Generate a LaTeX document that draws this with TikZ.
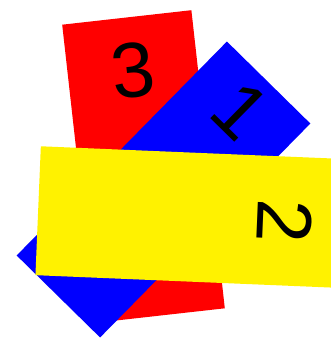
\documentclass[tikz,border=0pt]{standalone}
\usepackage{fontspec}
\setmainfont{Liberation Sans}
\usetikzlibrary{calc}
\newcommand{\cardfont}{\fontsize{78}{78}\selectfont}

\begin{document}
\begin{tikzpicture}[x=1pt,y=1pt]
\tikzset{card/.style={inner sep=0pt, minimum width=#1, minimum height=300pt},
  digit/.style={font=\cardfont, inner sep=0pt}}
\useasboundingbox (0,0) rectangle (331,338);
\node[card=130pt, fill=red, rotate=6.4] (red) at (143.5,171.5) {};
\node[digit, rotate=6.4] (three) at ($(red.center)!0.646!(red.north)$) {3};
\node[card=117pt, fill=blue, rotate=-44.5] (blue) at (163.5,148.5) {};
\node[digit, rotate=-44.5] (one) at ($(blue.center)!0.733!(blue.north)$) {1};
\node[card=129pt, fill=yellow, rotate=-92.4] (yellow) at (188,121) {};
\node[digit, rotate=-92.4] (two) at ($(yellow.center)!0.647!(yellow.north)$) {2};
\end{tikzpicture}
\end{document}
